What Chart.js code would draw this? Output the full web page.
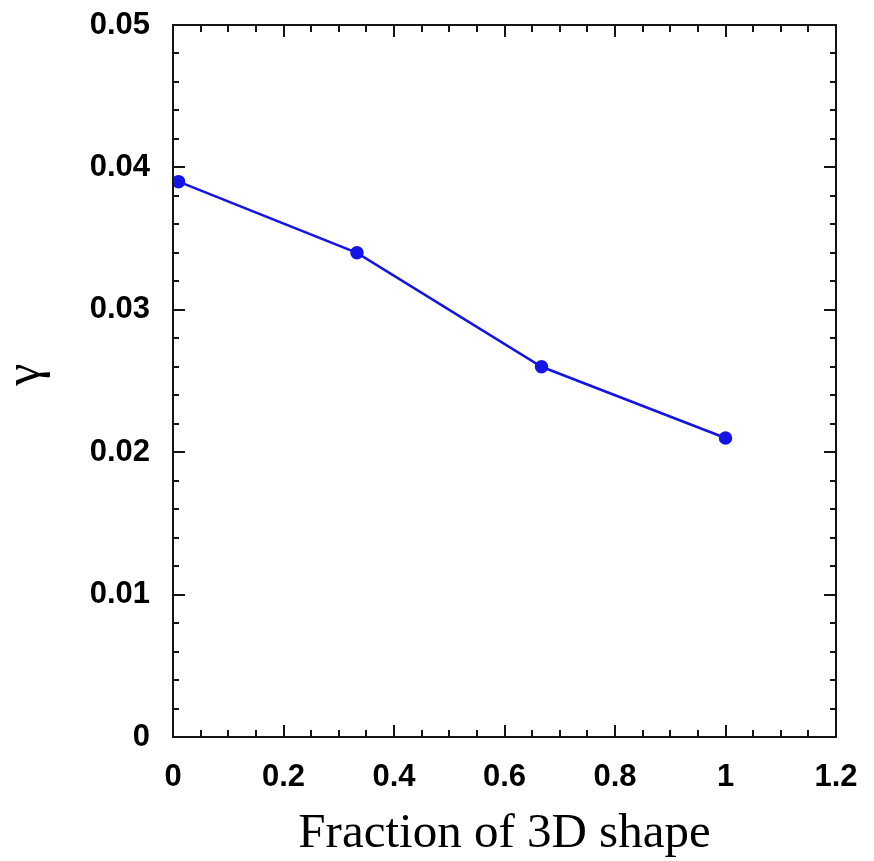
<!DOCTYPE html>
<html lang="en">
<head>
    <meta charset="UTF-8">
    <title>Gamma vs fraction of 3D shape</title>
    <style>
        body {
            margin: 0;
            padding: 0;
            background-color: #ffffff;
        }

        #wrap {
            width: 874px;
            height: 861px;
        }
    </style>
</head>
<body>
    <div id="wrap">
        <canvas id="chartContainer"></canvas>
    </div>

    <script src="https://cdn.jsdelivr.net/npm/chart.js"></script>
    <script>
        // values
        const fraction = [0.01, 0.333, 0.667, 1.0];
        const gamma = [0.039, 0.034, 0.026, 0.021];

        // axis tick labels (majors) and number of minor intervals between them
        const xTickLabels = ['0', '0.2', '0.4', '0.6', '0.8', '1', '1.2'];
        const yTickLabels = ['0', '0.01', '0.02', '0.03', '0.04', '0.05'];
        const xMinorSteps = 4;
        const yMinorSteps = 5;

        function buildTicks(labels, n) {
            const major = labels.map(Number);
            const out = [];
            for (let i = 0; i < major.length; i++) {
                out.push({ value: major[i], text: labels[i], isMajor: true });
                if (i < major.length - 1) {
                    const step = (major[i + 1] - major[i]) / n;
                    for (let k = 1; k < n; k++) {
                        out.push({ value: major[i] + k * step, text: '', isMajor: false });
                    }
                }
            }
            return out;
        }

        // frame round the plot plus inward ticks on all four sides
        const frameTicks = {
            id: 'frameTicks',
            afterDraw(chart) {
                const { ctx, chartArea: a, scales } = chart;
                const x = scales.x, y = scales.y;
                ctx.save();
                ctx.strokeStyle = '#151515';
                ctx.lineWidth = 2;
                ctx.strokeRect(a.left, a.top, a.right - a.left, a.bottom - a.top);
                ctx.beginPath();
                x.ticks.forEach(t => {
                    const px = Math.round(x.getPixelForValue(t.value));
                    const len = t.isMajor ? 12 : 7;
                    ctx.moveTo(px, a.bottom); ctx.lineTo(px, a.bottom - len);
                    ctx.moveTo(px, a.top); ctx.lineTo(px, a.top + len);
                });
                y.ticks.forEach(t => {
                    const py = Math.round(y.getPixelForValue(t.value));
                    const len = t.isMajor ? 12 : 6;
                    ctx.moveTo(a.left, py); ctx.lineTo(a.left + len, py);
                    ctx.moveTo(a.right, py); ctx.lineTo(a.right - len, py);
                });
                ctx.stroke();
                ctx.restore();
            }
        };

        const tickFont = { family: 'Arial, "Liberation Sans", sans-serif', size: 31, weight: 'bold' };

        const ctx = document.getElementById('chartContainer').getContext('2d');
        const chart = new Chart(ctx, {
            type: 'scatter',
            data: {
                datasets: [{
                    data: fraction.map((f, i) => ({ x: f, y: gamma[i] })),
                    showLine: true,
                    borderColor: '#1414e6',
                    backgroundColor: '#1414e6',
                    borderWidth: 2.5,
                    pointRadius: 5.5,
                    pointHoverRadius: 5.5
                }]
            },
            options: {
                responsive: true,
                maintainAspectRatio: false,
                animation: false,
                layout: { padding: { top: 25, right: 38, left: 0, bottom: 0 } },
                plugins: {
                    legend: { display: false },
                    tooltip: { enabled: false }
                },
                scales: {
                    x: {
                        type: 'linear',
                        min: 0,
                        max: 1.2,
                        afterBuildTicks: s => { s.ticks = buildTicks(xTickLabels, xMinorSteps); },
                        afterFit: s => {
                            s.height = 124;
                            s.paddingLeft = 0;
                            s.paddingRight = 0;
                        },
                        grid: { display: false },
                        border: { display: false },
                        ticks: {
                            autoSkip: false,
                            maxRotation: 0,
                            padding: 14,
                            color: '#000',
                            font: tickFont,
                            callback: (v, i, ticks) => ticks[i].text
                        },
                        title: {
                            display: true,
                            text: 'Fraction of 3D shape',
                            color: '#000',
                            font: { family: '"Times New Roman", "Liberation Serif", serif', size: 49, lineHeight: 1 },
                            padding: { top: 0, bottom: 2 }
                        }
                    },
                    y: {
                        type: 'linear',
                        min: 0,
                        max: 0.05,
                        afterBuildTicks: s => { s.ticks = buildTicks(yTickLabels, yMinorSteps); },
                        afterFit: s => {
                            s.width = 173;
                            s.paddingTop = 0;
                            s.paddingBottom = 0;
                        },
                        grid: { display: false },
                        border: { display: false },
                        ticks: {
                            autoSkip: false,
                            padding: 15,
                            color: '#000',
                            font: tickFont,
                            callback: (v, i, ticks) => ticks[i].text
                        },
                        title: {
                            display: true,
                            text: ' γ',
                            color: '#000',
                            font: { family: '"Times New Roman", "Liberation Serif", serif', size: 50, lineHeight: 1 },
                            padding: { top: 1, bottom: 0 }
                        }
                    }
                }
            },
            plugins: [frameTicks]
        });
    </script>
</body>
</html>
